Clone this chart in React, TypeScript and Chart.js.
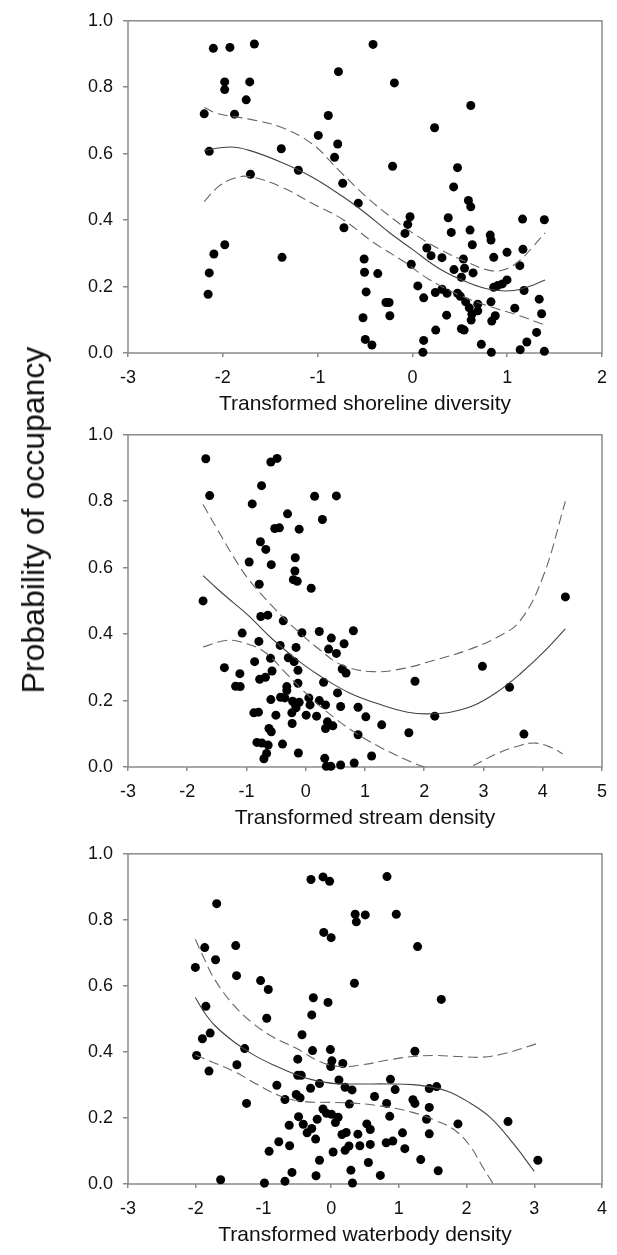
import React, { useEffect, useRef } from "react";
import { Chart, registerables } from "chart.js";
Chart.register(...registerables);

const FONT = "'Liberation Sans', Arial, Helvetica, sans-serif";

// ---------- Panel 1: shoreline diversity ----------
const shoreX = [-2.1, -1.925, -1.667, -0.415, -0.78, -0.19, -1.98, -1.98, -1.716, -1.753, 0.616, -2.196, -1.876, -0.887, 0.234, -0.993, -0.788, -1.383, -2.143, -0.821, -0.209, -1.203, 0.476, -1.708, -0.735, 0.435, -0.571, 0.591, 0.616, -0.025, -0.049, 0.378, 1.162, 1.392, -0.722, 0.41, 0.608, -0.078, 0.821, 0.829, 0.632, -1.979, 0.152, 1.166, 0.998, -2.094, 0.197, 0.312, 0.858, -1.375, -0.509, 0.538, -0.012, 1.133, 0.439, 0.55, -2.143, -0.505, -0.365, 0.64, 0.517, 0.057, 0.998, 0.948, 0.858, 0.9, 0.242, 0.312, 0.476, 0.505, 0.365, -0.488, 1.178, -2.155, 0.119, 1.338, 0.562, 0.69, 0.829, -0.279, -0.246, 1.08, 0.6, 0.69, 0.628, 1.363, 0.361, -0.238, 0.874, -0.521, 0.62, 0.837, 0.517, 0.546, 0.246, 1.31, -0.497, 0.119, -0.427, 0.727, 1.207, 1.137, 0.111, 0.833, 1.392];
const shoreY = [0.917, 0.92, 0.93, 0.929, 0.847, 0.813, 0.816, 0.793, 0.816, 0.762, 0.745, 0.72, 0.719, 0.715, 0.678, 0.655, 0.629, 0.615, 0.607, 0.589, 0.562, 0.55, 0.558, 0.538, 0.511, 0.5, 0.451, 0.459, 0.44, 0.41, 0.387, 0.407, 0.403, 0.401, 0.377, 0.363, 0.37, 0.36, 0.355, 0.34, 0.326, 0.326, 0.316, 0.312, 0.303, 0.298, 0.293, 0.287, 0.288, 0.288, 0.283, 0.283, 0.267, 0.263, 0.251, 0.255, 0.241, 0.243, 0.239, 0.241, 0.228, 0.202, 0.22, 0.208, 0.198, 0.203, 0.182, 0.192, 0.18, 0.171, 0.18, 0.184, 0.188, 0.177, 0.166, 0.162, 0.154, 0.147, 0.154, 0.152, 0.152, 0.135, 0.136, 0.127, 0.117, 0.118, 0.114, 0.112, 0.112, 0.106, 0.099, 0.096, 0.073, 0.069, 0.069, 0.062, 0.041, 0.038, 0.024, 0.026, 0.033, 0.01, 0.002, 0.002, 0.005];
const shoreFitX = [-2.196, -1.925, -1.72, -1.39, -1.06, -0.735, -0.49, -0.24, 0, 0.29, 0.58, 0.825, 1.07, 1.277, 1.4];
const shoreFitY = [0.61, 0.62, 0.61, 0.575, 0.53, 0.471, 0.42, 0.362, 0.312, 0.253, 0.213, 0.191, 0.188, 0.205, 0.22];
const shoreUpX = [-2.196, -2.05, -1.72, -1.39, -1.06, -0.776, -0.49, -0.24, 0, 0.29, 0.58, 0.825, 0.99, 1.15, 1.277, 1.4];
const shoreUpY = [0.739, 0.72, 0.704, 0.68, 0.63, 0.55, 0.471, 0.412, 0.362, 0.312, 0.273, 0.248, 0.253, 0.283, 0.322, 0.362];
const shoreLoX = [-2.196, -2.05, -1.88, -1.72, -1.39, -1.06, -0.735, -0.406, -0.078, 0.168, 0.497, 0.825, 1.112, 1.4];
const shoreLoY = [0.456, 0.5, 0.526, 0.531, 0.501, 0.451, 0.402, 0.332, 0.273, 0.223, 0.174, 0.139, 0.114, 0.084];

// ---------- Panel 2: stream density ----------
const streamX = [-1.687, -1.622, -1.733, -0.589, -0.484, -0.746, -0.903, 0.15, 0.517, -0.307, 0.281, -0.523, -0.445, -0.111, -0.765, -0.674, -0.955, -0.177, -0.582, -0.183, -0.209, -0.144, 0.092, -0.785, 4.382, -0.759, -0.641, -0.379, -1.073, -0.065, 0.229, 0.804, 0.432, -0.791, 0.647, -0.432, -0.164, 0.386, 0.517, -0.595, -0.294, -0.863, -0.196, -1.373, 2.982, -0.131, -0.569, 0.615, 0.68, -1.112, -0.68, -0.778, 1.844, 0.301, -0.131, 3.44, -1.184, -1.106, -0.32, -0.32, 0.536, -0.425, -0.353, -0.589, 0.052, 0.229, -0.222, -0.111, -0.177, 0.072, 0.334, 0.589, 0.883, -0.164, -0.235, -0.876, -0.798, -0.504, 0.007, 0.183, 2.178, 1.014, -0.229, 0.366, 1.282, 0.458, 0.334, -0.621, -0.582, 1.74, 3.682, 0.883, -0.824, -0.739, -0.634, -0.392, -0.124, -0.661, -0.706, 1.112, 0.32, 0.818, 0.589, 0.347, 0.425];
const streamY = [0.928, 0.817, 0.5, 0.918, 0.929, 0.847, 0.792, 0.815, 0.816, 0.762, 0.745, 0.718, 0.72, 0.716, 0.678, 0.655, 0.617, 0.63, 0.609, 0.59, 0.564, 0.559, 0.538, 0.55, 0.512, 0.453, 0.457, 0.44, 0.403, 0.404, 0.408, 0.41, 0.388, 0.378, 0.371, 0.366, 0.36, 0.355, 0.342, 0.327, 0.329, 0.317, 0.317, 0.299, 0.303, 0.291, 0.289, 0.295, 0.283, 0.281, 0.27, 0.264, 0.258, 0.255, 0.252, 0.24, 0.243, 0.242, 0.242, 0.23, 0.223, 0.21, 0.208, 0.203, 0.208, 0.2, 0.198, 0.195, 0.188, 0.187, 0.187, 0.182, 0.18, 0.178, 0.163, 0.163, 0.165, 0.156, 0.156, 0.153, 0.153, 0.151, 0.131, 0.136, 0.127, 0.124, 0.116, 0.116, 0.106, 0.103, 0.099, 0.097, 0.074, 0.072, 0.066, 0.069, 0.042, 0.041, 0.025, 0.033, 0.026, 0.012, 0.006, 0.002, 0.002];
const streamFitX = [-1.733, -1.485, -1.223, -0.961, -0.569, -0.177, 0.216, 0.739, 1.262, 1.72, 2.047, 2.44, 2.832, 3.225, 3.617, 4.009, 4.382];
const streamFitY = [0.576, 0.535, 0.495, 0.455, 0.386, 0.327, 0.277, 0.223, 0.188, 0.165, 0.16, 0.165, 0.185, 0.225, 0.28, 0.345, 0.416];
const streamUpX = [-1.733, -1.485, -1.223, -0.961, -0.569, -0.177, 0.216, 0.608, 1.131, 1.655, 2.178, 2.701, 3.225, 3.617, 4.009, 4.382];
const streamUpY = [0.79, 0.713, 0.634, 0.564, 0.485, 0.416, 0.356, 0.307, 0.287, 0.297, 0.322, 0.35, 0.39, 0.44, 0.575, 0.8];
const streamLoX = [-1.733, -1.354, -1.092, -0.7, -0.307, 0.085, 0.477, 0.87, 1.262, 1.655, 2.0, 2.4, 2.767, 3.225, 3.617, 3.878, 4.14, 4.336];
const streamLoY = [0.361, 0.381, 0.376, 0.347, 0.277, 0.208, 0.149, 0.099, 0.059, 0.025, 0.0, -0.02, 0.0, 0.04, 0.065, 0.072, 0.059, 0.04];

// ---------- Panel 3: waterbody density ----------
const waterX = [-0.298, -0.12, -0.023, 0.825, -1.69, 0.355, 0.504, 0.962, 0.372, -0.109, 0, -1.409, -1.867, 1.277, -1.707, -2.005, -1.397, -1.042, -0.928, 0.344, -0.263, 1.627, -0.046, -1.85, -0.286, -0.951, -0.43, -1.787, -1.901, -1.277, -0.275, -0.011, 1.237, -1.987, 0.011, -0.493, 0.172, -0.006, -1.392, -1.804, -0.493, -0.441, 0.876, 0.115, -0.172, -0.802, 0.206, 0.309, -0.304, 0.945, 1.558, 1.449, 0.641, -0.516, -0.458, -0.682, 1.208, 1.237, 0.819, 0.269, -1.249, 1.449, -0.12, -0.069, 0.006, -0.481, 0.865, 0.103, -0.206, 1.409, 0.063, -0.412, 0.527, 1.873, 2.612, -0.619, -0.286, 0.578, -0.355, 1.054, 0.223, 0.16, 0.395, 1.449, -0.229, -0.773, 0.911, 0.813, -0.613, 0.263, 0.424, 0.578, 1.088, 0.206, -0.916, 0.029, -0.172, 0.55, 1.323, 3.053, 0.292, 1.581, -0.578, -0.223, 0.727, -1.632, -0.682, -0.985, 0.315];
const waterY = [0.922, 0.93, 0.917, 0.931, 0.849, 0.817, 0.815, 0.817, 0.794, 0.762, 0.746, 0.722, 0.716, 0.719, 0.679, 0.656, 0.631, 0.616, 0.589, 0.608, 0.564, 0.559, 0.55, 0.538, 0.512, 0.502, 0.452, 0.457, 0.44, 0.41, 0.404, 0.407, 0.402, 0.389, 0.373, 0.378, 0.365, 0.356, 0.361, 0.342, 0.329, 0.329, 0.317, 0.315, 0.304, 0.299, 0.293, 0.285, 0.29, 0.286, 0.295, 0.289, 0.265, 0.271, 0.261, 0.256, 0.255, 0.244, 0.244, 0.242, 0.244, 0.232, 0.227, 0.214, 0.211, 0.204, 0.205, 0.202, 0.196, 0.196, 0.186, 0.181, 0.182, 0.182, 0.189, 0.178, 0.168, 0.165, 0.155, 0.155, 0.156, 0.15, 0.151, 0.152, 0.136, 0.128, 0.13, 0.125, 0.116, 0.115, 0.116, 0.12, 0.107, 0.102, 0.099, 0.097, 0.072, 0.065, 0.074, 0.072, 0.042, 0.04, 0.035, 0.025, 0.026, 0.013, 0.008, 0.003, 0.003];
const waterFitX = [-2.005, -1.89, -1.718, -1.432, -1.145, -0.859, -0.515, -0.286, 0.057, 0.401, 0.859, 1.203, 1.432, 1.718, 2.005, 2.348, 2.692, 3.0];
const waterFitY = [0.565, 0.525, 0.48, 0.43, 0.391, 0.361, 0.331, 0.316, 0.304, 0.303, 0.303, 0.301, 0.295, 0.281, 0.251, 0.202, 0.122, 0.038];
const waterUpX = [-2.005, -1.89, -1.718, -1.432, -1.145, -0.859, -0.515, -0.172, 0.115, 0.458, 0.859, 1.203, 1.546, 1.89, 2.233, 2.577, 3.035];
const waterUpY = [0.741, 0.689, 0.619, 0.54, 0.485, 0.445, 0.411, 0.371, 0.356, 0.361, 0.376, 0.386, 0.389, 0.386, 0.384, 0.396, 0.425];
const waterLoX = [-2.005, -1.776, -1.432, -1.088, -0.745, -0.401, 0, 0.401, 0.859, 1.203, 1.546, 1.833, 2.062, 2.233, 2.394];
const waterLoY = [0.391, 0.371, 0.341, 0.301, 0.266, 0.25, 0.247, 0.244, 0.232, 0.217, 0.192, 0.162, 0.112, 0.053, 0.0];

const yTicks = [0, 0.2, 0.4, 0.6, 0.8, 1.0];

const pts = (xs: number[], ys: number[]) => xs.map((x, i) => ({ x, y: ys[i] }));

type PanelDef = {
  top: number;
  height: number;
  plotBottom: number;
  xMin: number;
  xMax: number;
  title: string;
  px: number[]; py: number[];
  fx: number[]; fy: number[];
  ux: number[]; uy: number[];
  lx: number[]; ly: number[];
};

const PANELS: PanelDef[] = [
  { top: 0, height: 425, plotBottom: 353, xMin: -3, xMax: 2, title: "Transformed shoreline diversity",
    px: shoreX, py: shoreY, fx: shoreFitX, fy: shoreFitY, ux: shoreUpX, uy: shoreUpY, lx: shoreLoX, ly: shoreLoY },
  { top: 414, height: 425, plotBottom: 353, xMin: -3, xMax: 5, title: "Transformed stream density",
    px: streamX, py: streamY, fx: streamFitX, fy: streamFitY, ux: streamUpX, uy: streamUpY, lx: streamLoX, ly: streamLoY },
  { top: 833, height: 422, plotBottom: 351, xMin: -3, xMax: 4, title: "Transformed waterbody density",
    px: waterX, py: waterY, fx: waterFitX, fy: waterFitY, ux: waterUpX, uy: waterUpY, lx: waterLoX, ly: waterLoY },
];

const AXIS_GRAY = "#8a8a8a";
const TEXT = "#111111";

const framePlugin = {
  id: "frame",
  beforeDatasetsDraw(chart: any) {
    const { ctx, chartArea } = chart;
    ctx.save();
    ctx.strokeStyle = AXIS_GRAY;
    ctx.lineWidth = 1.5;
    ctx.strokeRect(chartArea.left, chartArea.top, chartArea.right - chartArea.left, chartArea.bottom - chartArea.top);
    ctx.restore();
  },
};

function Panel({ def }: { def: PanelDef }) {
  const ref = useRef<HTMLCanvasElement | null>(null);
  useEffect(() => {
    const canvas = ref.current;
    if (!canvas) return;
    const titleFont = 21;
    const titleLH = titleFont * 1.2;
    const axisH = def.height - def.plotBottom;
    const titleCenterFromAxis = 51;
    const titlePadBottom = axisH - titleCenterFromAxis - titleLH / 2;
    const lineBase = { showLine: true, pointRadius: 0, borderWidth: 1.1, tension: 0.4, fill: false, clip: 0 };
    const chart = new Chart(canvas, {
      type: "scatter",
      data: {
        datasets: [
          { ...lineBase, data: pts(def.fx, def.fy), borderColor: "#444444" } as any,
          { ...lineBase, data: pts(def.ux, def.uy), borderColor: "#666666", borderDash: [10, 5] } as any,
          { ...lineBase, data: pts(def.lx, def.ly), borderColor: "#666666", borderDash: [10, 5] } as any,
          { data: pts(def.px, def.py), pointRadius: 4.5, pointHoverRadius: 4.5, pointBackgroundColor: "#000", pointBorderColor: "#000", pointBorderWidth: 0, showLine: false, clip: false } as any,
        ],
      },
      options: {
        responsive: false,
        animation: false,
        devicePixelRatio: 1,
        layout: { padding: { top: 16, right: 8, left: 0, bottom: 0 } },
        plugins: { legend: { display: false }, tooltip: { enabled: false }, title: { display: false } },
        scales: {
          x: {
            type: "linear",
            min: def.xMin,
            max: def.xMax,
            afterFit: (s: any) => { s.height = axisH; },
            afterBuildTicks: (s: any) => {
              const t: any[] = [];
              for (let v = def.xMin; v <= def.xMax; v++) t.push({ value: v });
              s.ticks = t;
            },
            ticks: { color: TEXT, font: { family: FONT, size: 18 }, padding: 10, callback: (v: any) => String(v) },
            grid: { drawOnChartArea: false, drawTicks: true, tickLength: 4, color: AXIS_GRAY, lineWidth: 1.5 },
            border: { display: false },
            title: { display: true, text: def.title, color: TEXT, font: { family: FONT, size: titleFont }, padding: { top: 0, bottom: titlePadBottom } },
          },
          y: {
            type: "linear",
            min: 0,
            max: 1,
            afterFit: (s: any) => { s.width = 128; },
            afterBuildTicks: (s: any) => { s.ticks = yTicks.map((v) => ({ value: v })); },
            ticks: { color: TEXT, font: { family: FONT, size: 18 }, padding: 10, callback: (v: any) => Number(v).toFixed(1) },
            grid: { drawOnChartArea: false, drawTicks: true, tickLength: 5, color: AXIS_GRAY, lineWidth: 1.5 },
            border: { display: false },
          },
        },
      },
      plugins: [framePlugin],
    });
    return () => chart.destroy();
  }, [def]);
  return (
    <canvas
      ref={ref}
      width={617}
      height={def.height}
      style={{ position: "absolute", left: 0, top: def.top, width: 617, height: def.height }}
    />
  );
}

export default function App() {
  return (
    <div style={{ position: "absolute", left: 0, top: 0, width: 617, height: 1255, background: "#fff", overflow: "hidden" }}>
      {PANELS.map((p, i) => <Panel key={i} def={p} />)}
      <div
        style={{
          position: "absolute",
          left: 33,
          top: 520,
          transform: "translate(-50%, -50%) rotate(-90deg)",
          whiteSpace: "nowrap",
          fontFamily: FONT,
          fontSize: 32,
          lineHeight: 1,
          color: TEXT,
        }}
      >
        Probability of occupancy
      </div>
    </div>
  );
}
